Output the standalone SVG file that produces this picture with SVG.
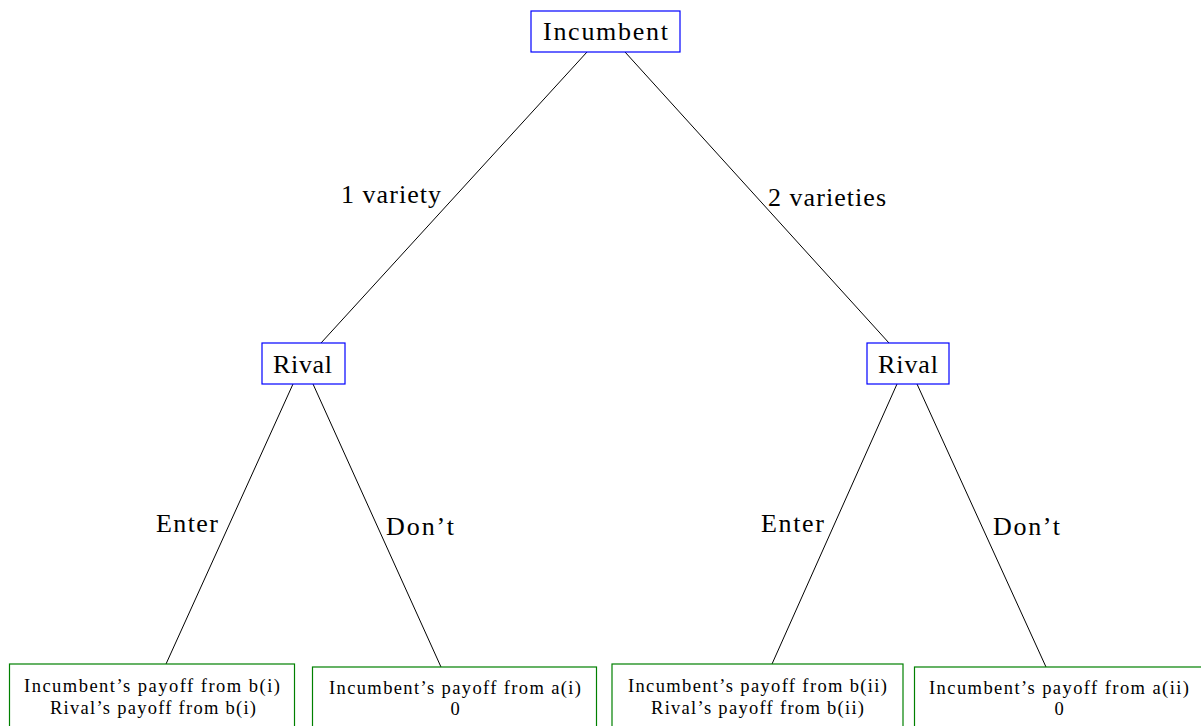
<svg xmlns="http://www.w3.org/2000/svg" width="1201" height="726" viewBox="0 0 1201 726">
<style>
.dec{fill:#fff;stroke:#0000ff;stroke-width:1.2}
.leaf{fill:#fff;stroke:#008000;stroke-width:1.2}
.t{font-family:"Liberation Serif","DejaVu Serif",serif;fill:#000;text-anchor:middle}
.big{font-size:26px}
.sm{font-size:18.5px}
.edge{stroke:#000;stroke-width:1;fill:none}
</style>
<rect width="1201" height="726" fill="#fff"/>
<g id="connectors">
<line class="edge" x1="587" y1="52" x2="321" y2="343"/>
<line class="edge" x1="625" y1="52" x2="889" y2="343"/>
<line class="edge" x1="293" y1="384" x2="166" y2="664"/>
<line class="edge" x1="313" y1="384" x2="441" y2="667"/>
<line class="edge" x1="897" y1="384" x2="772" y2="664"/>
<line class="edge" x1="917" y1="384" x2="1046" y2="667"/>
<text class="t big" x="391" y="203" textLength="100">1 variety</text>
<text class="t big" x="827" y="206" textLength="118">2 varieties</text>
<text class="t big" x="187" y="532" textLength="62">Enter</text>
<text class="t big" x="420" y="535" textLength="68">Don’t</text>
<text class="t big" x="792.5" y="532" textLength="63">Enter</text>
<text class="t big" x="1026.5" y="535" textLength="67">Don’t</text>
</g>
<g id="incumbent">
<rect class="dec" x="531" y="11" width="149" height="41"/>
<text class="t big" x="605.5" y="40" textLength="125">Incumbent</text>
</g>
<g id="rival1">
<rect class="dec" x="262" y="343" width="83" height="41"/>
<text class="t big" x="302.5" y="373" textLength="59">Rival</text>
</g>
<g id="rival2">
<rect class="dec" x="867" y="343" width="82" height="41"/>
<text class="t big" x="908" y="373" textLength="60">Rival</text>
</g>
<g id="leaf1">
<rect class="leaf" x="9.5" y="664" width="285" height="70"/>
<text class="t sm" x="152" y="692" textLength="256">Incumbent’s payoff from b(i)</text>
<text class="t sm" x="153" y="714" textLength="206">Rival’s payoff from b(i)</text>
</g>
<g id="leaf2">
<rect class="leaf" x="312.5" y="667" width="284" height="70"/>
<text class="t sm" x="455" y="694" textLength="252">Incumbent’s payoff from a(i)</text>
<text class="t sm" x="455" y="715">0</text>
</g>
<g id="leaf3">
<rect class="leaf" x="612" y="664" width="291" height="70"/>
<text class="t sm" x="757.5" y="692" textLength="259">Incumbent’s payoff from b(ii)</text>
<text class="t sm" x="757.5" y="714" textLength="213">Rival’s payoff from b(ii)</text>
</g>
<g id="leaf4">
<rect class="leaf" x="914.5" y="667" width="290" height="70"/>
<text class="t sm" x="1059" y="694" textLength="260">Incumbent’s payoff from a(ii)</text>
<text class="t sm" x="1059" y="715">0</text>
</g>
</svg>
